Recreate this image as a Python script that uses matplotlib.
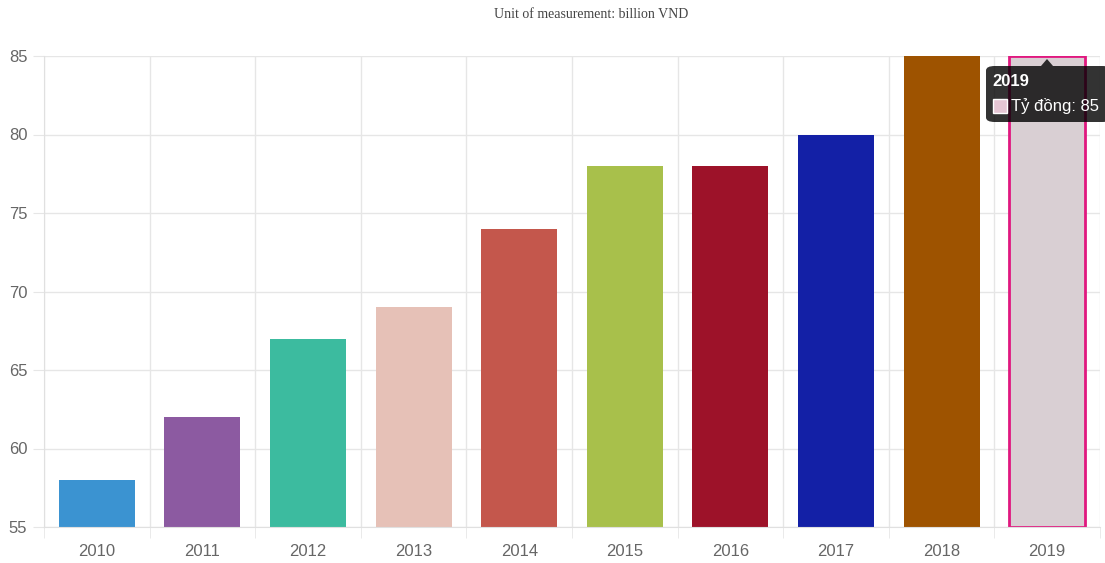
import matplotlib.pyplot as plt
from matplotlib.patches import FancyBboxPatch, Polygon, Rectangle

years = ["2010", "2011", "2012", "2013", "2014", "2015", "2016", "2017", "2018", "2019"]
values = [58, 62, 67, 69, 74, 78, 78, 80, 85, 85]
colors = ["#3b93d1", "#8c5aa1", "#3cbb9f", "#e6c1b7", "#c4574c",
          "#a8c04b", "#9d1229", "#1320a6", "#9e5300", "#d9cfd3"]
y_ticks = [55, 60, 65, 70, 75, 80, 85]

plt.rcParams["font.family"] = ["Liberation Sans", "DejaVu Sans"]

fig = plt.figure(figsize=(11.05, 5.63), dpi=100)
ax = fig.add_axes([44 / 1105, 1 - 527 / 563, 1056 / 1105, 471 / 563])

x = list(range(len(years)))
bars = ax.bar(x, [v - 55 for v in values], bottom=55, width=0.72,
              color=colors, zorder=2)
# highlighted (hovered) bar
bars[-1].set_edgecolor("#e0187f")
bars[-1].set_linewidth(2)

ax.set_xlim(-0.5, len(years) - 0.5)
ax.set_ylim(55, 85)
ax.set_yticks(y_ticks)
ax.set_xticks(x)
ax.set_xticklabels(years)

# vertical grid between categories
ax.set_xticks([i - 0.5 for i in range(len(years) + 1)], minor=True)
ax.grid(axis="x", which="minor", color="#e6e6e6", linewidth=1, zorder=0)
ax.grid(axis="y", which="major", color="#e6e6e6", linewidth=1, zorder=0)
ax.tick_params(axis="x", which="major", length=0, pad=12,
               labelsize=12, labelcolor="#666666")
ax.tick_params(axis="x", which="minor", length=8, color="#e6e6e6")
ax.tick_params(axis="y", length=8, color="#e6e6e6", pad=4,
               labelsize=12, labelcolor="#666666")
for side in ["top", "right"]:
    ax.spines[side].set_visible(False)
for side in ["left", "bottom"]:
    ax.spines[side].set_color("#e0e0e0")

fig.text(591 / 1105, 1 - 15 / 563, "Unit of measurement: billion VND",
         ha="center", va="center", fontsize=10, color="#444444",
         family="Liberation Serif")

# tooltip for the 2019 bar
bx0, by0, bw, bh = 986 / 1105, 1 - 122 / 563, 125 / 1105, 56 / 563
box = FancyBboxPatch((bx0, by0), bw, bh, boxstyle="round,pad=0,rounding_size=0.008",
                     transform=fig.transFigure, facecolor="#000000", alpha=0.8,
                     edgecolor="none", zorder=10)
fig.patches.append(box)
arrow = Polygon([(1041 / 1105, 1 - 66 / 563), (1053 / 1105, 1 - 66 / 563),
                 (1047 / 1105, 1 - 59 / 563)], closed=True,
                transform=fig.transFigure, facecolor="#000000", alpha=0.8,
                edgecolor="none", zorder=10)
fig.patches.append(arrow)
fig.text(992 / 1105, 1 - 82 / 563, years[-1], ha="left", va="center",
         fontsize=12, fontweight="bold", color="white", zorder=11)
swatch = Rectangle((993 / 1105, 1 - 113 / 563), 14 / 1105, 14 / 563,
                   transform=fig.transFigure, facecolor="#e6c6d4",
                   edgecolor="white", linewidth=1, zorder=11)
fig.patches.append(swatch)
fig.text(1011 / 1105, 1 - 106 / 563, f"Tỷ đồng: {values[-1]}", ha="left",
         va="center", fontsize=12, color="white", zorder=11)

fig.savefig("out.png", dpi=100, facecolor="white")
